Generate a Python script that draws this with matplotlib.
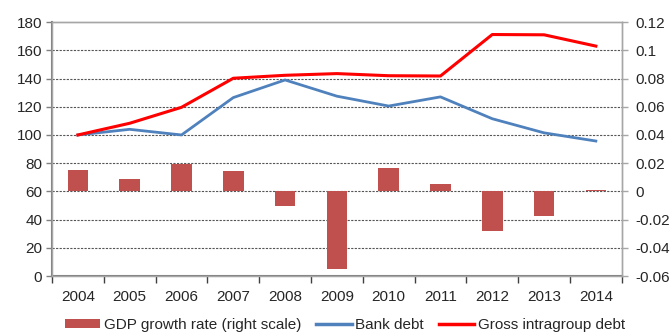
import matplotlib
matplotlib.use("Agg")
import matplotlib.pyplot as plt
from matplotlib.patches import Patch
from matplotlib.lines import Line2D
import numpy as np

plt.rcParams['font.family'] = ['Liberation Sans', 'DejaVu Sans']

years = ['2004', '2005', '2006', '2007', '2008', '2009', '2010', '2011', '2012', '2013', '2014']
gdp_growth = [0.0154, 0.009, 0.0196, 0.0142, -0.0104, -0.0548, 0.0165, 0.0055, -0.0284, -0.0175, 0.0012]
bank_debt = [100, 104, 100, 126.5, 139, 127.5, 120.5, 127, 111.5, 101.5, 95.7]
gross_intragroup = [100, 108.3, 119.6, 140.2, 142.3, 143.5, 142, 141.8, 171.2, 171, 163]

left_ticks = [0, 20, 40, 60, 80, 100, 120, 140, 160, 180]
right_ticks = [-0.06, -0.04, -0.02, 0, 0.02, 0.04, 0.06, 0.08, 0.1, 0.12]
right_labels = ['-0.06', '-0.04', '-0.02', '0', '0.02', '0.04', '0.06', '0.08', '0.1', '0.12']

fig = plt.figure(figsize=(6.7, 3.35), dpi=100)
ax = fig.add_axes([0.0776, 0.176, 0.8504, 0.758])
ax2 = ax.twinx()

x = np.arange(len(years))
bar_col = '#C0504D'
blue = '#4F81BD'
red = '#FF0000'
grid_col = '#555555'
spine_col = '#A6A6A6'

# right axis bars
ax2.bar(x, gdp_growth, width=0.4, color=bar_col, zorder=2)
ax2.set_ylim(-0.06, 0.12)
ax2.set_yticks(right_ticks)
ax2.set_yticklabels(right_labels)

# grid on left axis
ax.set_ylim(0, 180)
ax.set_yticks(left_ticks)
ax.set_xlim(-0.5, len(years) - 0.5)
for v in left_ticks[1:-1]:
    ax.axhline(v, color=grid_col, lw=0.8, ls=(0, (2, 1.2)), zorder=0)

# lines on top (left scale)
ax3 = ax.twinx()
ax3.set_ylim(0, 180)
ax3.set_yticks([])
ax3.plot(x, bank_debt, color=blue, lw=2.0, zorder=3)
ax3.plot(x, gross_intragroup, color=red, lw=2.2, zorder=4)
for s in ax3.spines.values():
    s.set_visible(False)

ax.set_xticks(x)
ax.set_xticklabels(years)
ax.set_xticks(np.arange(-0.5, len(years)), minor=True)
ax.tick_params(axis='x', which='major', length=0, pad=10, labelsize=11, colors='#262626')
ax.tick_params(axis='x', which='minor', length=5, width=1, color='#404040', direction='out')
ax.tick_params(axis='y', length=4, width=1, color='#808080', labelsize=11, labelcolor='#262626', pad=3)
ax2.tick_params(axis='y', length=4, width=1, color='#A6A6A6', labelsize=11, labelcolor='#262626', pad=6)

for a in (ax, ax2):
    for s in a.spines.values():
        s.set_color(spine_col)
        s.set_linewidth(1.0)
ax.spines['left'].set_color('#808080')
ax.spines['left'].set_linewidth(1.5)
ax.spines['bottom'].set_color('#808080')
ax.spines['bottom'].set_linewidth(1.5)

handles = [Patch(facecolor=bar_col, edgecolor='none'),
           Line2D([0], [0], color=blue, lw=2.5),
           Line2D([0], [0], color=red, lw=2.5)]
labels = ['GDP growth rate (right scale)', 'Bank debt', 'Gross intragroup debt']
fig.legend(handles, labels, loc='center', bbox_to_anchor=(0.515, 0.03), ncol=3,
           frameon=False, fontsize=11, handlelength=2.3, handleheight=0.6,
           columnspacing=1.0, handletextpad=0.25, labelcolor='#262626')

fig.savefig('out.png', dpi=100)
